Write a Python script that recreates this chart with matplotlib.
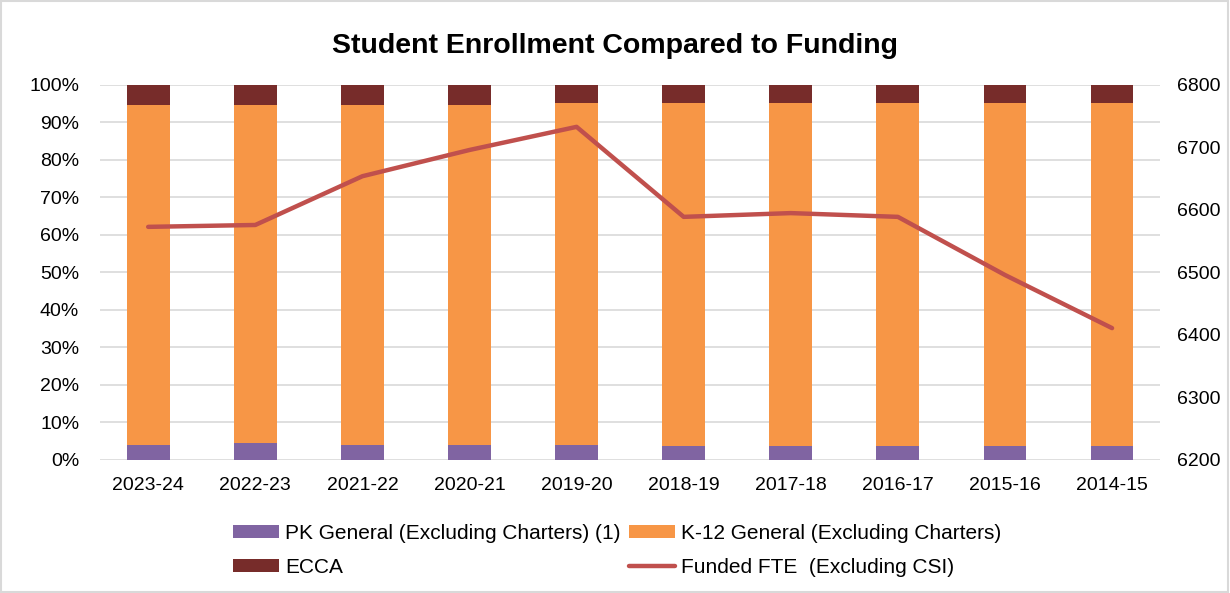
import numpy as np
import matplotlib.pyplot as plt
from matplotlib.patches import Rectangle

plt.rcParams['font.family'] = ['Liberation Sans', 'DejaVu Sans']

years = ["2023-24", "2022-23", "2021-22", "2020-21", "2019-20",
         "2018-19", "2017-18", "2016-17", "2015-16", "2014-15"]
pk = [4.1, 4.5, 4.1, 4.1, 4.1, 3.7, 3.7, 3.7, 3.7, 3.7]
ecca = [5.4, 5.4, 5.4, 5.4, 4.9, 4.9, 4.9, 4.9, 4.9, 4.9]
k12 = [100 - a - b for a, b in zip(pk, ecca)]
funded_fte = [6573, 6576, 6654, 6696, 6733, 6589, 6595, 6589, 6496, 6411]

purple = "#8064A2"
orange = "#F79646"
darkred = "#772C2A"
linecol = "#C0504D"

fig = plt.figure(figsize=(12.3, 5.93), dpi=100)
ax = fig.add_axes([0.0813, 0.2243, 0.862, 0.6324])
x = np.arange(len(years))
w = 0.4

b1 = ax.bar(x, pk, w, color=purple, label="PK General (Excluding Charters) (1)", zorder=2)
b2 = ax.bar(x, k12, w, bottom=pk, color=orange, label="K-12 General (Excluding Charters)", zorder=2)
bot = [a + b for a, b in zip(pk, k12)]
b3 = ax.bar(x, ecca, w, bottom=bot, color=darkred, label="ECCA", zorder=2)

ax.set_ylim(0, 100)
ax.set_yticks(np.arange(0, 101, 10))
ax.set_yticklabels([f"{v}%" for v in range(0, 101, 10)])
ax.set_xlim(-0.45, len(years) - 0.55)
ax.set_xticks(x)
ax.set_xticklabels(years)
ax.grid(axis="y", color="#d9d9d9", linewidth=1.2, zorder=0)
ax.set_axisbelow(True)
for s in ax.spines.values():
    s.set_visible(False)
ax.tick_params(axis="y", length=0, labelsize=14, pad=15)
ax.tick_params(axis="x", length=0, labelsize=14, pad=12)

ax2 = ax.twinx()
l1, = ax2.plot(x, funded_fte, color=linecol, linewidth=3.2,
               solid_capstyle="round", label="Funded FTE  (Excluding CSI)")
ax2.set_ylim(6200, 6800)
ax2.set_yticks(np.arange(6200, 6801, 100))
for s in ax2.spines.values():
    s.set_visible(False)
ax2.tick_params(length=0, labelsize=14, pad=12)

fig.suptitle("Student Enrollment Compared to Funding", fontsize=20.5,
             fontweight="bold", y=0.945)

fig.legend([b1, b3, b2, l1],
           [b1.get_label(), b3.get_label(), b2.get_label(), l1.get_label()],
           ncol=2, loc="center", bbox_to_anchor=(0.502, 0.072),
           frameon=False, fontsize=15, handlelength=2.2, handleheight=0.55,
           handletextpad=0.3, columnspacing=0.4, labelspacing=0.7,
           borderpad=0)

fig.patches.append(Rectangle((0.001, 0.002), 0.997, 0.996, transform=fig.transFigure,
                             fill=False, edgecolor="#d9d9d9", linewidth=1.5))

fig.savefig("out.png", dpi=100)
